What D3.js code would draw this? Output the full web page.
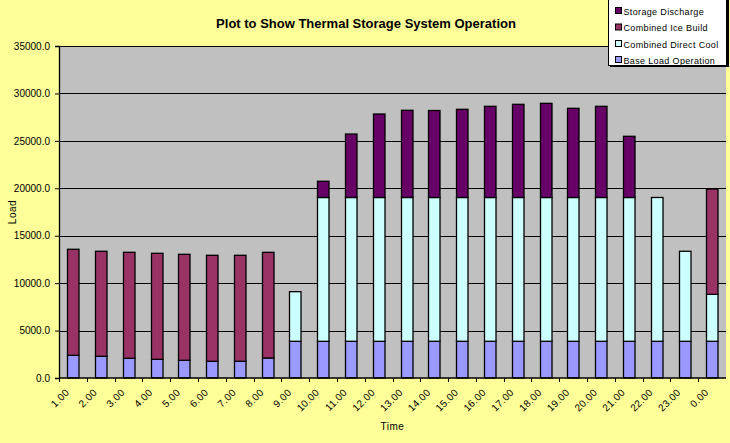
<!DOCTYPE html>
<html lang="en">
<head>
<meta charset="UTF-8">
<title>Plot to Show Thermal Storage System Operation</title>
<script src="https://d3js.org/d3.v7.min.js"></script>
<style>
    body { margin: 0; background: #FFFF99; }
    svg { display: block; font-family: 'Liberation Sans', Arial, sans-serif; }
</style>
</head>
<body>
<div id="chart"></div>
<script>
// hours of the day
const hours = ["1.00","2.00","3.00","4.00","5.00","6.00","7.00","8.00","9.00","10.00","11.00","12.00",
               "13.00","14.00","15.00","16.00","17.00","18.00","19.00","20.00","21.00","22.00","23.00","0.00"];

// series values
const baseLoad        = [2390, 2290, 2075, 1970, 1865, 1760, 1760, 2110, 3870, 3870, 3870, 3870,
                         3870, 3870, 3870, 3870, 3870, 3870, 3870, 3870, 3870, 3870, 3870, 3870];
const directCool      = [0, 0, 0, 0, 0, 0, 0, 0, 5230, 15160, 15160, 15160,
                         15160, 15160, 15160, 15160, 15160, 15160, 15160, 15160, 15160, 15160, 9490, 4950];
const iceBuild        = [11180, 11070, 11175, 11175, 11175, 11175, 11175, 11140, 0, 0, 0, 0,
                         0, 0, 0, 0, 0, 0, 0, 0, 0, 0, 0, 11105];
const storageDischarge = [0, 0, 0, 0, 0, 0, 0, 0, 0, 1710, 6690, 8800,
                          9190, 9170, 9295, 9610, 9820, 9925, 9400, 9610, 6450, 0, 0, 0];

const yTicks = [0, 5000, 10000, 15000, 20000, 25000, 30000, 35000];

const seriesNames = ["Base Load Operation", "Combined Direct Cool", "Combined Ice Build", "Storage Discharge"];
const seriesColors = ["#9999FF", "#CCFFFF", "#993366", "#660066"];

const width = 730, height = 443;
const margin = { top: 46, right: 4, bottom: 65, left: 59 };

const rows = hours.map((h, i) => ({
    hour: h,
    "Base Load Operation": baseLoad[i],
    "Combined Direct Cool": directCool[i],
    "Combined Ice Build": iceBuild[i],
    "Storage Discharge": storageDischarge[i]
}));

const svg = d3.select("#chart").append("svg")
    .attr("width", width)
    .attr("height", height);

svg.append("rect").attr("width", width).attr("height", height).attr("fill", "#FFFF99");

const x = d3.scaleBand()
    .domain(hours)
    .range([margin.left, width - margin.right])
    .padding(0);

const y = d3.scaleLinear()
    .domain([0, 35000])
    .range([height - margin.bottom, margin.top]);

// plot area
svg.append("rect")
    .attr("x", margin.left)
    .attr("y", margin.top)
    .attr("width", width - margin.right - margin.left)
    .attr("height", height - margin.bottom - margin.top)
    .attr("fill", "#C0C0C0");

// gridlines
svg.append("g")
    .selectAll("line")
    .data(yTicks.slice(1))
    .join("line")
    .attr("x1", margin.left)
    .attr("x2", width - margin.right)
    .attr("y1", d => Math.round(y(d)) + 0.5)
    .attr("y2", d => Math.round(y(d)) + 0.5)
    .attr("stroke", "#000")
    .attr("stroke-width", 1);

// stacked bars
const stack = d3.stack().keys(seriesNames);
const stacked = stack(rows);
const colour = d3.scaleOrdinal().domain(seriesNames).range(seriesColors);
const barW = 11.5;

svg.append("g")
    .selectAll("g")
    .data(stacked)
    .join("g")
    .attr("fill", d => colour(d.key))
    .selectAll("rect")
    .data(d => d.filter(s => s[1] - s[0] > 0))
    .join("rect")
    .attr("x", d => Math.round(x(d.data.hour) + (x.bandwidth() - barW) / 2) + 0.5)
    .attr("y", d => y(d[1]))
    .attr("width", barW)
    .attr("height", d => y(d[0]) - y(d[1]))
    .attr("stroke", "#000")
    .attr("stroke-width", 1.3);

// y axis
const yAxis = svg.append("g")
    .attr("transform", `translate(${margin.left},0)`)
    .call(d3.axisLeft(y).tickValues(yTicks).tickFormat(d3.format(".1f")).tickSize(4).tickPadding(5));
yAxis.select(".domain").attr("stroke", "#000").attr("stroke-width", 1.3);
yAxis.selectAll("line").attr("stroke", "#000");
yAxis.selectAll("text").attr("font-size", 10).attr("fill", "#000")
    .attr("font-family", "'Liberation Sans', Arial, sans-serif");

// x axis (ticks at band boundaries)
const xAxisG = svg.append("g")
    .attr("transform", `translate(0,${height - margin.bottom})`);
xAxisG.append("line")
    .attr("x1", margin.left).attr("x2", width - margin.right)
    .attr("stroke", "#000").attr("stroke-width", 1.3);
xAxisG.selectAll(".tick")
    .data(hours)
    .join("line")
    .attr("x1", d => Math.round(x(d)) + 0.5)
    .attr("x2", d => Math.round(x(d)) + 0.5)
    .attr("y1", 0).attr("y2", 4)
    .attr("stroke", "#000");
xAxisG.selectAll(".lbl")
    .data(hours)
    .join("text")
    .attr("transform", d => `translate(${x(d) + x.bandwidth() / 2 - 3},${15}) rotate(-45)`)
    .attr("text-anchor", "end")
    .attr("font-size", 10)
    .attr("letter-spacing", 0.4)
    .attr("fill", "#000")
    .text(d => d);

// axis titles
svg.append("text")
    .attr("x", (margin.left + width - margin.right) / 2)
    .attr("y", 430)
    .attr("text-anchor", "middle")
    .attr("font-size", 10)
    .attr("letter-spacing", 0.5)
    .text("Time");

svg.append("text")
    .attr("transform", `translate(16,212) rotate(-90)`)
    .attr("text-anchor", "middle")
    .attr("font-size", 10)
    .attr("letter-spacing", 0.5)
    .text("Load");

// title
svg.append("text")
    .attr("x", 366)
    .attr("y", 28)
    .attr("text-anchor", "middle")
    .attr("font-size", 13)
    .attr("font-weight", "bold")
    .text("Plot to Show Thermal Storage System Operation");

// legend
const legend = svg.append("g");
legend.append("rect")
    .attr("x", 610).attr("y", -2).attr("width", 119).attr("height", 69)
    .attr("fill", "#000");
legend.append("rect")
    .attr("x", 608.5).attr("y", -2).attr("width", 118).attr("height", 67.5)
    .attr("fill", "#FFFFFF").attr("stroke", "#000");

const legendOrder = seriesNames.slice().reverse();
const legendY = [11, 27.5, 44, 60];
const items = legend.selectAll(".item")
    .data(legendOrder)
    .join("g")
    .attr("transform", (d, i) => `translate(615,${legendY[i]})`);
items.append("rect")
    .attr("x", 0.5).attr("y", -3.5).attr("width", 6).attr("height", 6)
    .attr("fill", d => colour(d)).attr("stroke", "#000");
items.append("text")
    .attr("x", 8.5)
    .attr("y", 3.5)
    .attr("font-size", 9)
    .attr("letter-spacing", 0.35)
    .text(d => d);
</script>
</body>
</html>
